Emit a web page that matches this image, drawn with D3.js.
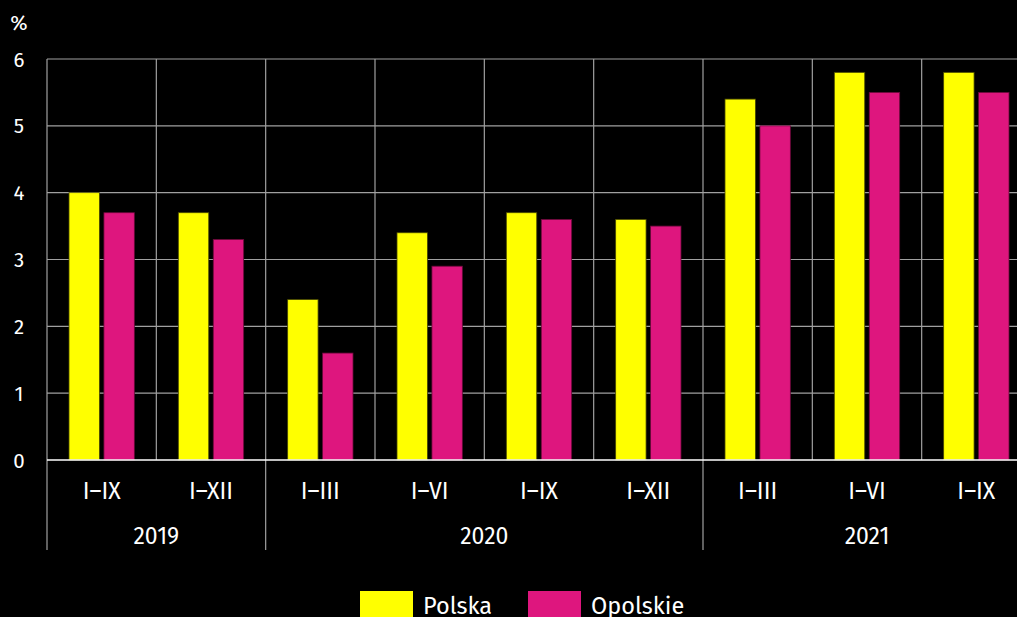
<!DOCTYPE html>
<html><head><meta charset="utf-8">
<script src="https://cdn.jsdelivr.net/npm/d3@7"></script>
<style>body{margin:0;background:#000;overflow:hidden}svg{display:block}text{font-family:"Fira Sans","Open Sans","Noto Sans",sans-serif;fill:#fff}</style>
</head><body><svg id="c" width="1017" height="617"></svg>
<script>
const categories = ["I–IX","I–XII","I–III","I–VI","I–IX","I–XII","I–III","I–VI","I–IX"];
const years = [{label:"2019", from:0, to:2},{label:"2020", from:2, to:6},{label:"2021", from:6, to:9}];
const polska = [4.0,3.7,2.4,3.4,3.7,3.6,5.4,5.8,5.8];
const opolskie = [3.7,3.3,1.6,2.9,3.6,3.5,5.0,5.5,5.5];
const seriesNames = ["Polska","Opolskie"];
const colors = ["#ffff00","#de167e"];
const yTicks = [0,1,2,3,4,5,6];

const svg = d3.select("#c");
const L = 47, R = 1031, T = 59, B = 460;
const idx = d3.range(categories.length);
const x = d3.scaleBand().domain(idx).range([L,R]).padding(0);
const y = d3.scaleLinear().domain([0,6]).range([B,T]);
const inner = d3.scaleBand().domain([0,1]).range([22, x.bandwidth()-22]).paddingInner(0.13);

// horizontal grid
svg.append("g").selectAll("line").data(yTicks.filter(d=>d>0)).join("line")
  .attr("x1",L).attr("x2",R).attr("y1",d=>y(d)).attr("y2",d=>y(d))
  .attr("stroke","#a0a0a0").attr("stroke-width",1.2);
// vertical grid
const vlines = d3.range(categories.length+1);
const groupBounds = new Set(years.map(d=>d.from).concat([categories.length]));
svg.append("g").selectAll("line").data(vlines).join("line")
  .attr("x1",d=>L + d*x.step()).attr("x2",d=>L + d*x.step())
  .attr("y1",T).attr("y2",d=>groupBounds.has(d)?550:B)
  .attr("stroke","#a0a0a0").attr("stroke-width",1.2);

// bars
const data = [polska, opolskie];
data.forEach((vals,s)=>{
  svg.append("g").selectAll("rect").data(vals).join("rect")
    .attr("x",(d,i)=>x(i)+inner(s)).attr("width",inner.bandwidth())
    .attr("y",d=>y(d)).attr("height",d=>B-y(d))
    .attr("fill",colors[s]).attr("stroke",s===0?"#4a4a00":"#6a0a3a").attr("stroke-width",0.8);
});

// zero line
svg.append("line").attr("x1",L).attr("x2",R).attr("y1",B).attr("y2",B).attr("stroke","#fff").attr("stroke-width",1.5);

// y axis labels
svg.append("g").selectAll("text").data(yTicks).join("text")
  .attr("x",19).attr("y",d=>y(d)+7.5).attr("text-anchor","middle").attr("font-size",20.5).text(d=>d);
svg.append("text").attr("x",19).attr("y",30).attr("text-anchor","middle").attr("font-size",21).text("%");

// category labels
svg.append("g").selectAll("text").data(categories).join("text")
  .attr("x",(d,i)=>x(i)+x.bandwidth()/2).attr("y",499).attr("text-anchor","middle").attr("font-size",23).text(d=>d);
// year labels
svg.append("g").selectAll("text").data(years).join("text")
  .attr("x",d=>L + (d.from+d.to)/2*x.step()).attr("y",544).attr("text-anchor","middle").attr("font-size",23).text(d=>d.label);

// legend
const lg = svg.append("g");
const lx = [360, 528];
seriesNames.forEach((n,i)=>{
  lg.append("rect").attr("x",lx[i]).attr("y",591).attr("width",53).attr("height",30).attr("fill",colors[i]);
  lg.append("text").attr("x",lx[i]+63).attr("y",613.5).attr("font-size",23.5).text(n);
});
</script></body></html>
